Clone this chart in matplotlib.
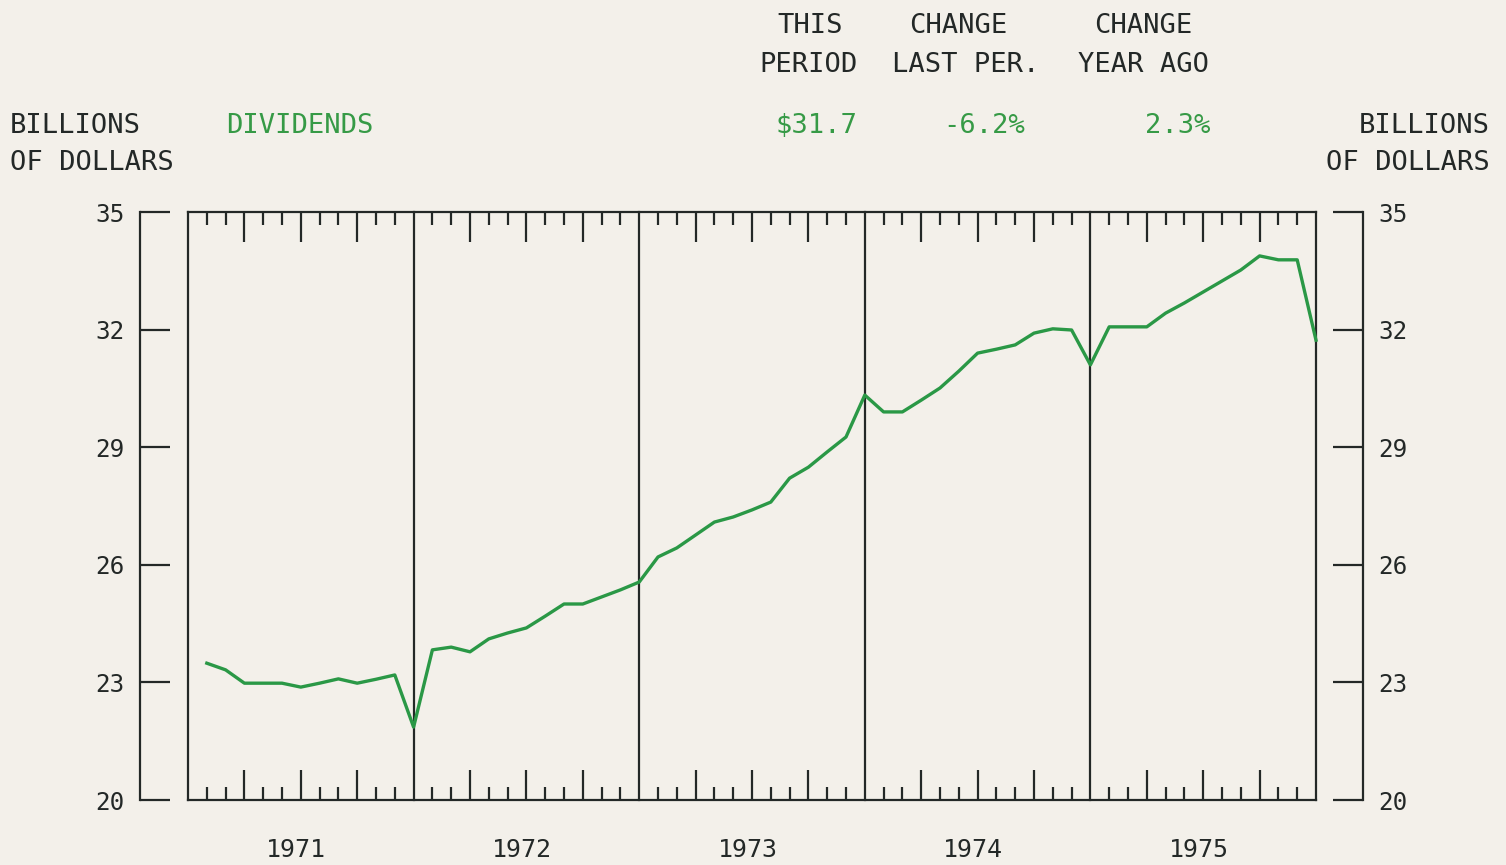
import matplotlib
matplotlib.use("Agg")
import matplotlib.pyplot as plt
import numpy as np

# -------------------- Data (billions of dollars, monthly) --------------------
years = [1971, 1972, 1973, 1974, 1975]
div_1971 = [23.49, 23.32, 22.98, 22.98, 22.98, 22.88, 22.98, 23.09, 22.98, 23.08, 23.19, 21.86]
div_1972 = [23.83, 23.90, 23.78, 24.11, 24.26, 24.39, 24.69, 25.00, 25.00, 25.18, 25.36, 25.56]
div_1973 = [26.20, 26.43, 26.76, 27.09, 27.22, 27.40, 27.60, 28.21, 28.49, 28.88, 29.26, 30.33]
div_1974 = [29.90, 29.90, 30.20, 30.51, 30.94, 31.40, 31.50, 31.61, 31.91, 32.02, 31.99, 31.10]
div_1975 = [32.07, 32.07, 32.07, 32.42, 32.68, 32.96, 33.24, 33.52, 33.88, 33.78, 33.78, 31.73]
y_ticks = [20, 23, 26, 29, 32, 35]

header_top = ["THIS", "CHANGE", "CHANGE"]
header_bottom = ["PERIOD", "LAST PER.", "YEAR AGO"]
header_values = ["$31.7", "-6.2%", "2.3%"]

# -------------------- Style --------------------
W, H = 1506, 865
bg = "#f3f0ea"
ink = "#232827"
green = "#2a9846"
text_green = "#369a46"
mono = "DejaVu Sans Mono"


def px(x, y):
    return x / W, 1 - y / H


fig = plt.figure(figsize=(W / 100, H / 100), dpi=100, facecolor=bg)
ax = fig.add_axes([188 / W, 1 - 800 / H, (1316 - 188) / W, (800 - 212) / H])
ax.set_facecolor(bg)
ax.set_xlim(1971, 1976)
ax.set_ylim(20, 35)

# box + detached value scales
for side in ["top", "bottom", "left", "right"]:
    ax.spines[side].set_color(ink)
    ax.spines[side].set_linewidth(1.6)
ax.spines["left"].set_position(("outward", 48 * 0.72))
ax.spines["right"].set_position(("outward", 47 * 0.72))

for yr in range(1971, 1977):
    ax.axvline(yr, color=ink, lw=1.6, clip_on=False, zorder=3)

# y scale ticks on both sides
ax.set_yticks(y_ticks)
ax.tick_params(axis="y", which="major", direction="in", length=30 * 0.72, width=1.6,
               color=ink, left=True, right=True, labelleft=True, labelright=True,
               labelsize=17.5, labelcolor=ink, pad=11)
for lab in ax.get_yticklabels():
    lab.set_family(mono)

# month ticks along top and bottom, quarters longer
quarters = [yr + q / 4 for yr in years for q in (1, 2, 3)]
months = [yr + m / 12 for yr in years for m in range(1, 12) if m % 3 != 0]
ax.set_xticks(quarters)
ax.set_xticks(months, minor=True)
ax.tick_params(axis="x", which="both", direction="in", top=True, bottom=True,
               labelbottom=False, color=ink, width=1.6)
ax.tick_params(axis="x", which="major", length=30 * 0.72)
ax.tick_params(axis="x", which="minor", length=13 * 0.72)

for yr in years:
    ax.text(yr + 0.48, -0.085, str(yr), transform=ax.get_xaxis_transform(),
            ha="center", va="center", fontsize=18, family=mono, color=ink)

# -------------------- Series --------------------
values = np.concatenate([div_1971, div_1972, div_1973, div_1974, div_1975])
x = np.array([yr + m / 12 for yr in years for m in range(1, 13)])
ax.plot(x, values, color=green, lw=2.4, zorder=4, clip_on=False)

# -------------------- Header texts --------------------
fs = 19.5
for label, cx in zip(header_top, [810, 958, 1143]):
    fig.text(*px(cx, 26), label, ha="center", va="center", fontsize=fs, family=mono, color=ink)
for label, cx in zip(header_bottom, [808, 966, 1143]):
    fig.text(*px(cx, 65), label, ha="center", va="center", fontsize=fs, family=mono, color=ink)
for label, cx in zip(header_values, [816, 984, 1178]):
    fig.text(*px(cx, 126), label, ha="center", va="center", fontsize=fs, family=mono, color=text_green)

fig.text(*px(10, 126), "BILLIONS", ha="left", va="center", fontsize=fs, family=mono, color=ink)
fig.text(*px(10, 163), "OF DOLLARS", ha="left", va="center", fontsize=fs, family=mono, color=ink)
fig.text(*px(226, 126), "DIVIDENDS", ha="left", va="center", fontsize=fs, family=mono, color=text_green)
fig.text(*px(1490, 126), "BILLIONS", ha="right", va="center", fontsize=fs, family=mono, color=ink)
fig.text(*px(1490, 163), "OF DOLLARS", ha="right", va="center", fontsize=fs, family=mono, color=ink)

fig.savefig("out.png", dpi=100, facecolor=bg)
